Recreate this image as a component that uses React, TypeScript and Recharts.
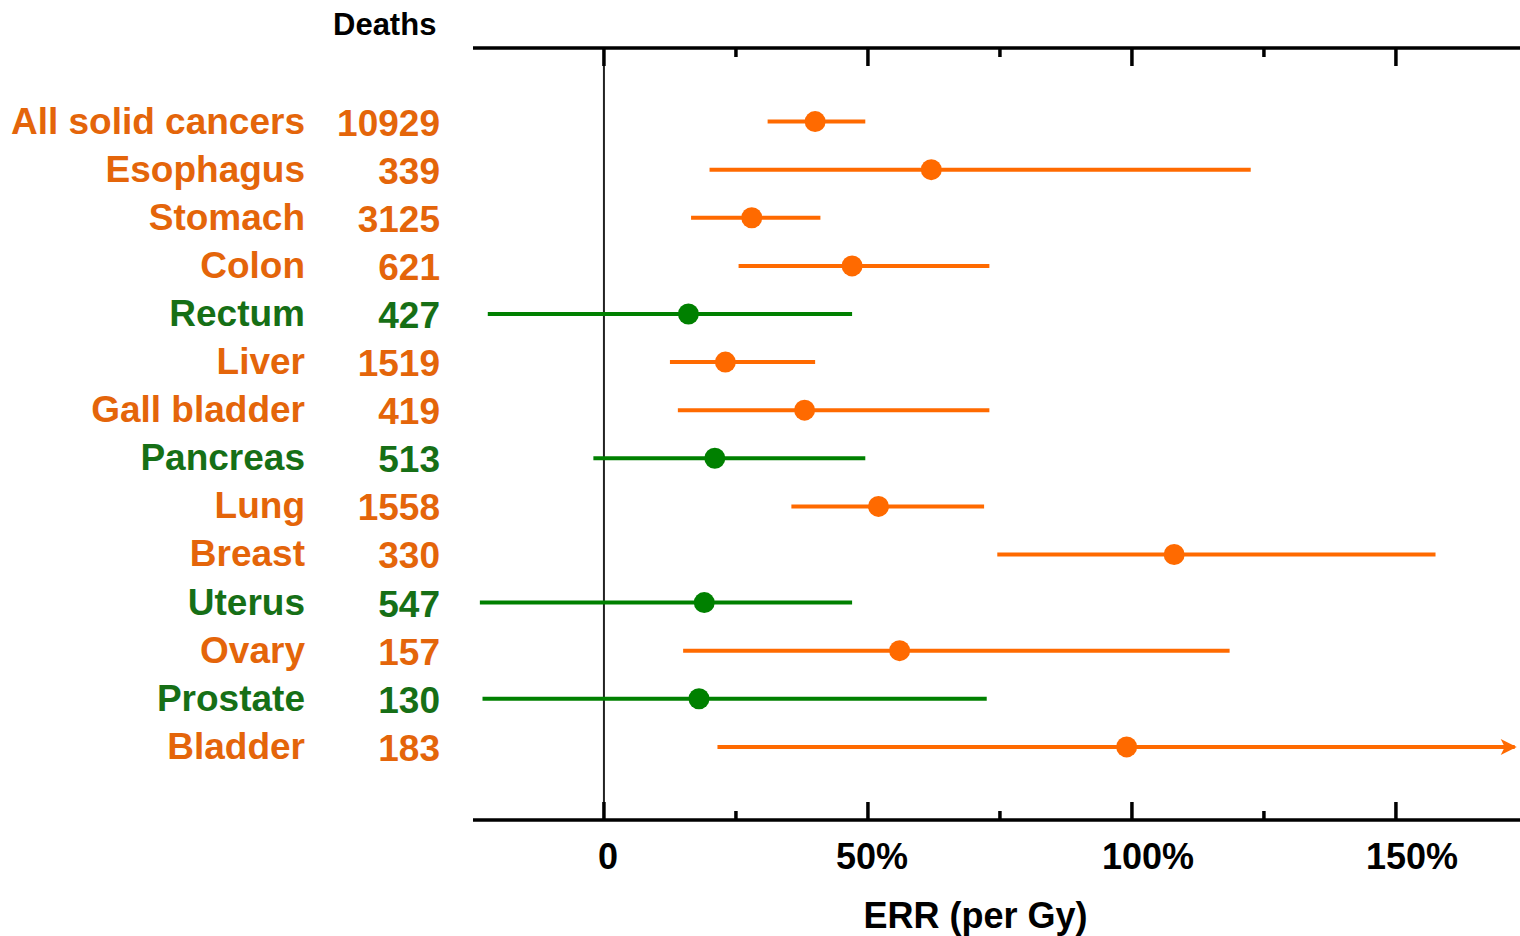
import React from "react";
import {
  ScatterChart,
  Scatter,
  XAxis,
  YAxis,
  ErrorBar,
  ReferenceLine,
  ReferenceDot,
} from "recharts";

const cancers = [
  "All solid cancers",
  "Esophagus",
  "Stomach",
  "Colon",
  "Rectum",
  "Liver",
  "Gall bladder",
  "Pancreas",
  "Lung",
  "Breast",
  "Uterus",
  "Ovary",
  "Prostate",
  "Bladder",
];
const deaths = [10929, 339, 3125, 621, 427, 1519, 419, 513, 1558, 330, 547, 157, 130, 183];
const errEstimate = [40, 62, 28, 47, 16, 23, 38, 21, 52, 108, 19, 56, 18, 99];
const errLower = [31, 20, 16.5, 25.5, -22, 12.5, 14, -2, 35.5, 74.5, -23.5, 15, -23, 21.5];
// bladder upper limit runs off the axis (drawn as an arrow)
const errUpper = [49.5, 122.5, 41, 73, 47, 40, 73, 49.5, 72, 157.5, 47, 118.5, 72.5, 172.5];
const significant = [true, true, true, true, false, true, true, false, true, true, false, true, false, true];

const xTicks = [0, 25, 50, 75, 100, 125, 150];
const xLabels: Record<number, string> = { 0: "0", 50: "50%", 100: "100%", 150: "150%" };

const ORANGE = "#FF6A00";
const GREEN = "#008000";
const ORANGE_TEXT = "#E4650A";
const GREEN_TEXT = "#166F16";
const FONT = "'Liberation Sans', Arial, sans-serif";

const rows = cancers.map((name, i) => ({
  row: i,
  err: errEstimate[i],
  ci: [errEstimate[i] - errLower[i], errUpper[i] - errEstimate[i]],
  sig: significant[i],
}));
const orangeRows = rows.filter((r) => r.sig);
const greenRows = rows.filter((r) => !r.sig);

const Dot = (color: string) => (props: any) =>
  <circle cx={props.cx} cy={props.cy} r={10.5} fill={color} />;

const TopTick = (props: any) => {
  const { x, y, payload } = props;
  const len = payload.value % 50 === 0 ? 18 : 9;
  return <line x1={x} x2={x} y1={y} y2={y + len} stroke="#000" strokeWidth={3.5} />;
};

const BottomTick = (props: any) => {
  const { x, y, payload } = props;
  const v = payload.value;
  const len = v % 50 === 0 ? 18 : 9;
  const label = xLabels[v];
  return (
    <g>
      <line x1={x} x2={x} y1={y} y2={y - len} stroke="#000" strokeWidth={3.5} />
      {label && (
        <text
          x={x + (v >= 100 ? 16 : 4)}
          y={y + 49}
          textAnchor="middle"
          fontFamily={FONT}
          fontWeight="bold"
          fontSize={36}
          fill="#000"
        >
          {label}
        </text>
      )}
    </g>
  );
};

const RowTick = (props: any) => {
  const { x, y, payload } = props;
  const i = payload.value;
  if (i < 0 || i >= cancers.length) return null;
  const color = significant[i] ? ORANGE_TEXT : GREEN_TEXT;
  return (
    <g fontFamily={FONT} fontWeight="bold" fontSize={37} fill={color}>
      <text x={x - 168} y={y + 12} textAnchor="end">
        {cancers[i]}
      </text>
      <text x={x - 33} y={y + 14} textAnchor="end">
        {deaths[i]}
      </text>
    </g>
  );
};

const Arrow = (props: any) => {
  const { cx, cy } = props;
  return (
    <path d={`M${cx + 2},${cy} L${cx - 14},${cy - 8} L${cx - 10},${cy} L${cx - 14},${cy + 8} Z`} fill={ORANGE} />
  );
};

const XTitle = (props: any) => {
  const { viewBox } = props;
  return (
    <text
      x={viewBox.x + viewBox.width / 2 - 21}
      y={viewBox.y + 108}
      textAnchor="middle"
      fontFamily={FONT}
      fontWeight="bold"
      fontSize={36}
      fill="#000"
    >
      ERR (per Gy)
    </text>
  );
};

export default function App() {
  return (
    <div style={{ position: "absolute", left: 0, top: 0, width: 1520, height: 936 }}>
      <div
        style={{
          position: "absolute",
          left: 333,
          top: 7,
          fontFamily: FONT,
          fontWeight: "bold",
          fontSize: 31,
          color: "#000",
          lineHeight: "36px",
        }}
      >
        Deaths
      </div>
      <ScatterChart width={1520} height={936} margin={{ top: 46, right: 0, bottom: 0, left: 0 }}>
        <XAxis
          xAxisId="top"
          orientation="top"
          type="number"
          dataKey="err"
          domain={[-24.8, 173.5]}
          allowDataOverflow
          ticks={xTicks}
          interval={0}
          height={2}
          tickSize={0}
          tickMargin={0}
          tickLine={false}
          tick={<TopTick />}
          axisLine={{ stroke: "#000", strokeWidth: 3.5 }}
        />
        <XAxis
          xAxisId="bottom"
          orientation="bottom"
          type="number"
          dataKey="err"
          domain={[-24.8, 173.5]}
          allowDataOverflow
          ticks={xTicks}
          interval={0}
          height={116}
          tickSize={0}
          tickMargin={0}
          tickLine={false}
          tick={<BottomTick />}
          axisLine={{ stroke: "#000", strokeWidth: 3.5 }}
          label={<XTitle />}
        />
        <YAxis
          type="number"
          dataKey="row"
          domain={[-1.53, 14.52]}
          allowDataOverflow
          reversed
          ticks={rows.map((r) => r.row)}
          interval={0}
          width={473}
          tickSize={0}
          tickMargin={0}
          tickLine={false}
          axisLine={false}
          tick={<RowTick />}
        />
        <ReferenceLine xAxisId="top" x={0} stroke="#222" strokeWidth={2} />
        <Scatter
          xAxisId="top"
          data={rows}
          isAnimationActive={false}
          shape={() => <g />}
          legendType="none"
        />
        <Scatter
          xAxisId="bottom"
          data={orangeRows}
          isAnimationActive={false}
          shape={Dot(ORANGE)}
        >
          <ErrorBar dataKey="ci" direction="x" width={0} stroke={ORANGE} strokeWidth={4} isAnimationActive={false} />
        </Scatter>
        <Scatter
          xAxisId="bottom"
          data={greenRows}
          isAnimationActive={false}
          shape={Dot(GREEN)}
        >
          <ErrorBar dataKey="ci" direction="x" width={0} stroke={GREEN} strokeWidth={4} isAnimationActive={false} />
        </Scatter>
        <ReferenceDot
          xAxisId="bottom"
          x={errUpper[13]}
          y={13}
          ifOverflow="visible"
          shape={<Arrow />}
        />
      </ScatterChart>
    </div>
  );
}
